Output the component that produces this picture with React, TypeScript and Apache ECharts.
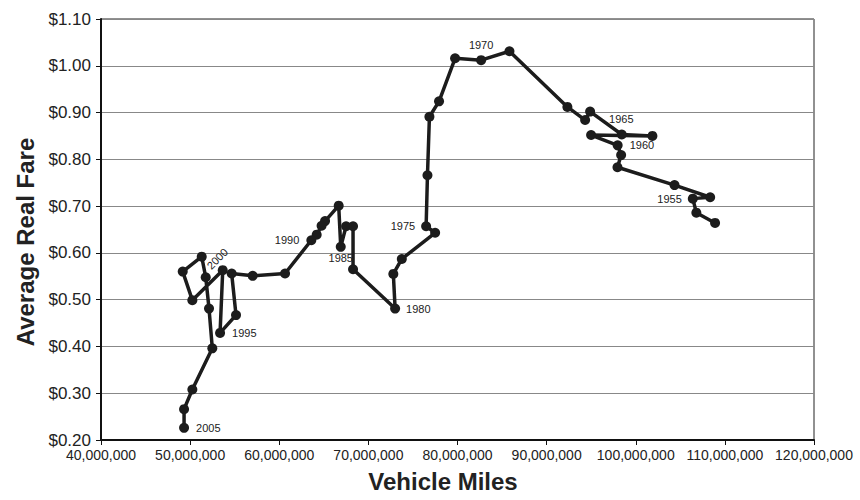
import React, { useEffect, useRef } from "react";
import * as echarts from "echarts";

const xMiles = [
  108900000, 106800000, 106400000, 108350000, 104350000, 97950000, 98360000, 97970000,
  94990000, 101870000, 98430000, 94880000, 94320000, 92330000, 85830000, 82650000,
  79730000, 77930000, 76850000, 76630000, 76480000, 77490000, 73750000, 72800000,
  73000000, 68280000, 68280000, 67500000, 66900000, 66670000, 65140000, 64750000,
  64200000, 63600000, 60650000, 57020000, 54660000, 55150000, 53360000, 53660000,
  50250000, 49170000, 51300000, 51750000, 52120000, 52490000, 50250000, 49320000,
  49320000,
];

const yFare = [
  0.664, 0.686, 0.716, 0.719, 0.745, 0.783, 0.809, 0.83,
  0.852, 0.85, 0.853, 0.902, 0.884, 0.912, 1.031, 1.012,
  1.016, 0.924, 0.891, 0.766, 0.657, 0.643, 0.587, 0.555,
  0.481, 0.565, 0.657, 0.657, 0.613, 0.701, 0.668, 0.658,
  0.639, 0.627, 0.556, 0.551, 0.556, 0.467, 0.429, 0.563,
  0.499, 0.56, 0.592, 0.548, 0.481, 0.396, 0.308, 0.266,
  0.226,
];

const yearLabels = [
  "", "", "1955", "", "", "", "", "1960",
  "", "", "", "1965", "", "", "", "1970",
  "", "", "", "", "1975", "", "", "",
  "1980", "", "", "", "1985", "", "", "",
  "", "1990", "", "", "", "", "1995", "",
  "", "", "", "2000", "", "", "", "",
  "2005",
];

const yTicks = { min: 0.2, max: 1.1, interval: 0.1 };
const xTicks = { min: 40000000, max: 120000000, interval: 10000000 };

const labelPlacement: Record<string, any> = {
  "1955": { position: "left", distance: 6 },
  "1960": { position: "right", distance: 7 },
  "1965": { position: "right", distance: 5, offset: [9, 7] },
  "1970": { position: "top", distance: 5 },
  "1975": { position: "left", distance: 6 },
  "1980": { position: "right", distance: 6 },
  "1985": { position: "bottom", distance: 1 },
  "1990": { position: "left", distance: 7 },
  "1995": { position: "right", distance: 7 },
  "2000": { position: "right", distance: 5, rotate: 45, offset: [2, -12] },
  "2005": { position: "right", distance: 7 },
};

const FONT = "'Liberation Sans', Arial, sans-serif";

export default function App() {
  const ref = useRef<HTMLDivElement>(null);
  useEffect(() => {
    if (!ref.current) return;
    const chart = echarts.init(ref.current, null, { renderer: "svg" });
    const data = xMiles.map((x, i) => {
      const yr = yearLabels[i];
      const item: any = { value: [x, yFare[i]] };
      if (yr) {
        item.label = {
          show: true,
          formatter: yr,
          color: "#222",
          fontSize: 11,
          fontFamily: FONT,
          ...labelPlacement[yr],
        };
      }
      return item;
    });
    chart.setOption({
      animation: false,
      backgroundColor: "#fff",
      grid: {
        left: 101,
        right: 46,
        top: 19,
        bottom: 60,
        show: true,
        borderColor: "#222",
        borderWidth: 1,
        backgroundColor: "transparent",
      },
      xAxis: {
        type: "value",
        min: xTicks.min,
        max: xTicks.max,
        interval: xTicks.interval,
        axisLine: { show: true, onZero: false, lineStyle: { color: "#111", width: 2 } },
        axisTick: { show: true, length: 5, lineStyle: { color: "#111", width: 1 } },
        splitLine: { show: false },
        axisLabel: {
          color: "#222",
          fontSize: 14,
          fontFamily: FONT,
          margin: 8,
          formatter: (v: number) => v.toLocaleString("en-US"),
        },
      },
      yAxis: {
        type: "value",
        min: yTicks.min,
        max: yTicks.max,
        interval: yTicks.interval,
        axisLine: { show: true, onZero: false, lineStyle: { color: "#111", width: 2 } },
        axisTick: { show: true, length: 5, lineStyle: { color: "#111", width: 1 } },
        splitLine: { show: true, lineStyle: { color: "#888", width: 1 } },
        axisLabel: {
          color: "#222",
          fontSize: 17,
          fontFamily: FONT,
          margin: 10,
          formatter: (v: number) => "$" + v.toFixed(2),
        },
      },
      graphic: [
        {
          type: "text",
          x: 25,
          y: 242,
          rotation: Math.PI / 2,
          style: {
            text: "Average Real Fare",
            fill: "#222",
            font: "bold 24px " + FONT,
            align: "center",
            verticalAlign: "middle",
          },
        },
        {
          type: "text",
          x: 443,
          y: 481,
          style: {
            text: "Vehicle Miles",
            fill: "#222",
            font: "bold 24px " + FONT,
            align: "center",
            verticalAlign: "middle",
          },
        },
      ],
      series: [
        {
          type: "line",
          data,
          symbol: "circle",
          symbolSize: 10,
          itemStyle: { color: "#1c1c1c" },
          lineStyle: { color: "#1c1c1c", width: 3.5 },
          emphasis: { disabled: true },
          z: 3,
        },
      ],
    });
    return () => chart.dispose();
  }, []);
  return (
    <div
      ref={ref}
      style={{ position: "fixed", left: 0, top: 0, width: 860, height: 500, background: "#fff" }}
    />
  );
}
